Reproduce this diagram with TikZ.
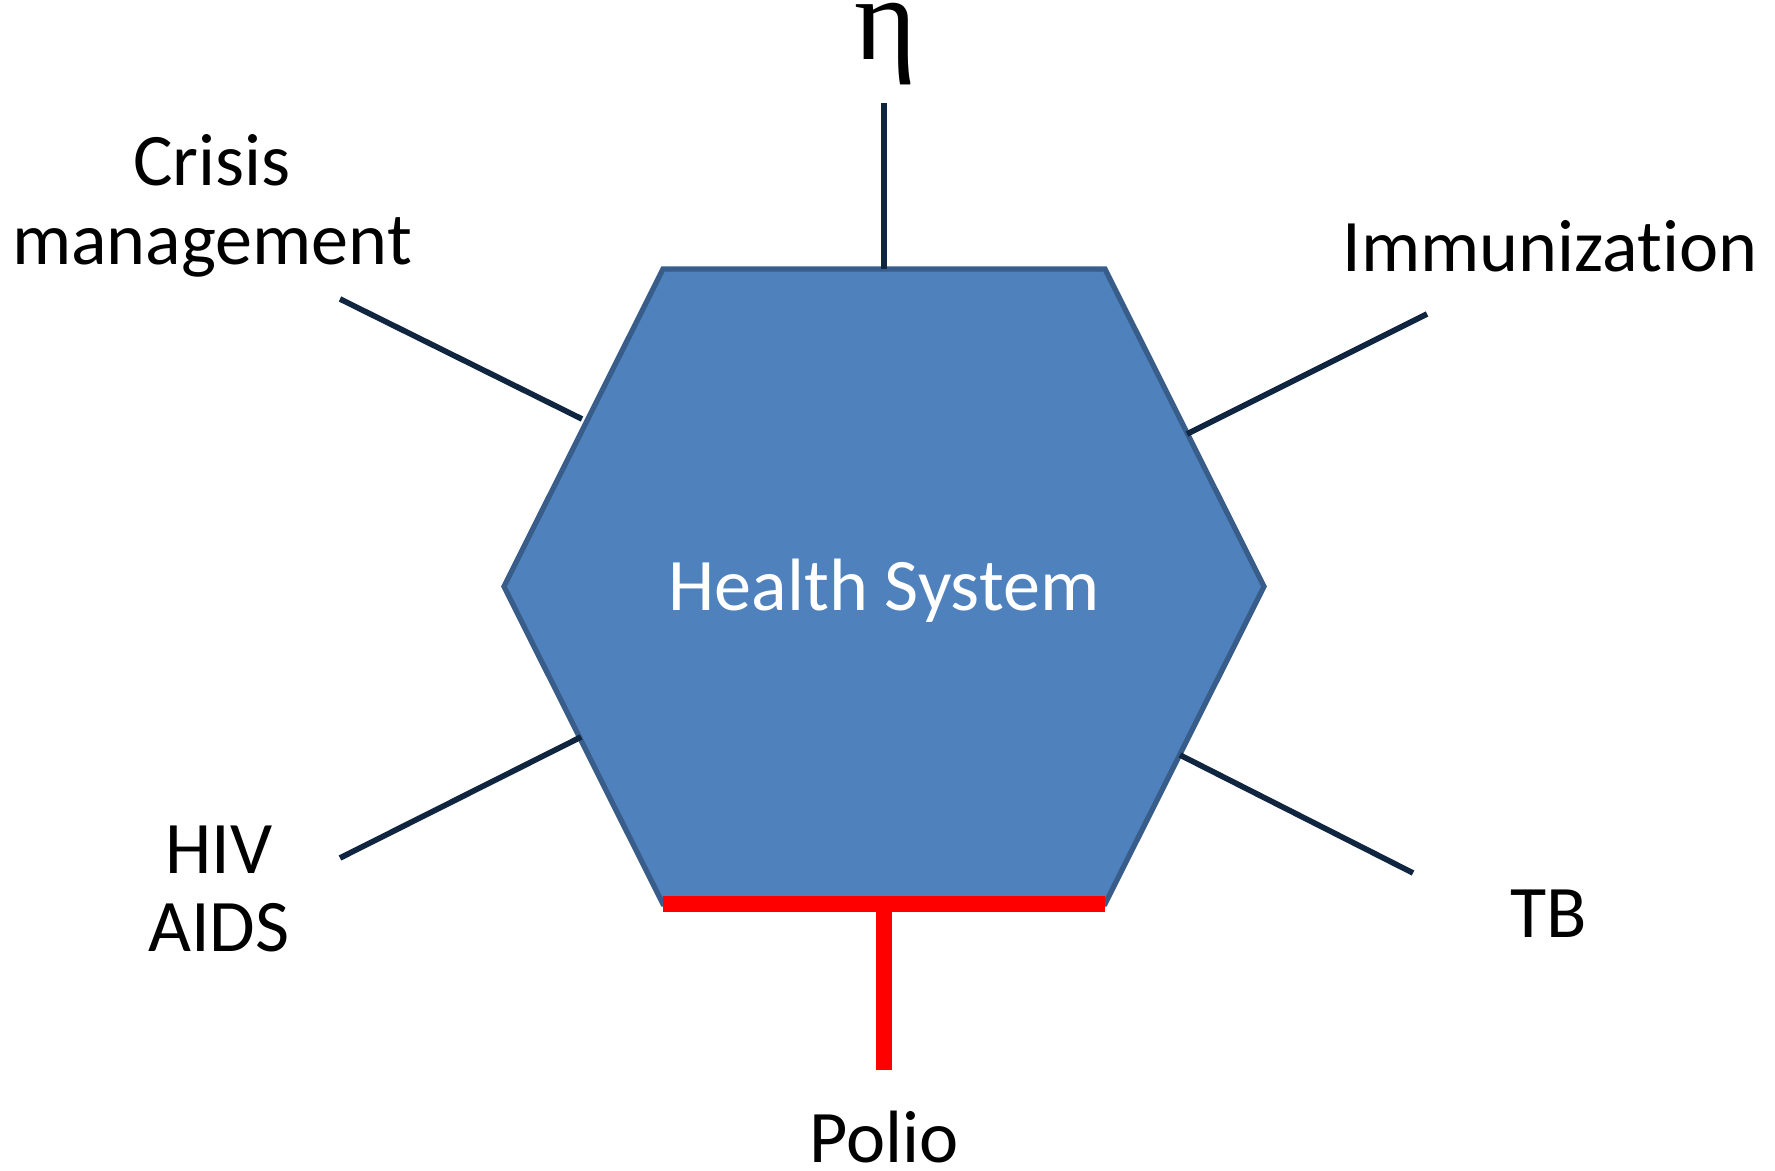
\documentclass[tikz,border=0pt]{standalone}
\usepackage{fontspec}
\setmainfont{Carlito}[Ligatures = NoCommon]
\newfontfamily\greekfont{Liberation Serif}
\usepackage{tikz}

\definecolor{hexblue}{HTML}{4F81BD}
\definecolor{hexedge}{HTML}{385D8A}
\definecolor{spokenavy}{HTML}{10253F}

\begin{document}
\begin{tikzpicture}[x = 0.1 mm, y = -0.1 mm, font = \fontsize{21.1}{22.3}\selectfont,
	hexagon/.style = {fill = hexblue, draw = hexedge, line width = 1.5 pt, line join = miter},
	spoke/.style = {draw = spokenavy, line width = 1.6 pt},
	polio line/.style = {draw = red, line width = 4.5 pt},
	topic/.style = {align = center, inner sep = 0 pt}]

	% Definitions
	
	\def\cx{884}		% Centre of the hexagon
	\def\cy{586.5}
	
	\useasboundingbox (0, 0) rectangle (1775, 1171);
	
	% Draw hexagon
	
	\foreach \name/\x/\y in {tl/663/269, tr/1105/269, rt/1264/586.5, br/1105/904, bl/663/904, lt/504/586.5}
		\coordinate (\name) at (\x, \y);
	\filldraw [hexagon] (tl) -- (tr) -- (rt) -- (br) -- (bl) -- (lt) -- cycle;
	\node [topic, anchor = base, text = white] (health) at (\cx, 611) {Health System};
	
	% Draw spokes
	
	\foreach \name/\xo/\yo/\xi/\yi in {top/884/103/884/269, crisis/340/299/582/419, immun/1427/314/1187/434, hiv/340/858/581/737, tb/1413/873/1180/755}
	{
		\coordinate (\name out) at (\xo, \yo);
		\coordinate (\name in) at (\xi, \yi);
		\draw [spoke] (\name out) -- (\name in);
	}
	
	% Draw polio bar
	
	\coordinate (polio mid) at (\cx, 904);
	\coordinate (polio end) at (\cx, 1070);
	\draw [polio line] (bl) -- (br);
	\draw [polio line] (polio mid) -- (polio end);
	
	% Draw labels
	
	\node [topic, anchor = center] (eta) at (886, 44) {\greekfont\fontsize{34}{34}\selectfont η};
	\node [topic, anchor = center] (crisis) at (212, 206) {Crisis\\management};
	\node [topic, anchor = base] (immunization) at (1550, 272) {Immunization};
	\node [topic, anchor = center] (hivaids) at (219, 889) {HIV\\AIDS};
	\node [topic, anchor = base] (tb) at (1549, 937) {TB};
	\node [topic, anchor = base] (polio) at (\cx, 1162) {Polio};
	
\end{tikzpicture}
\end{document}
